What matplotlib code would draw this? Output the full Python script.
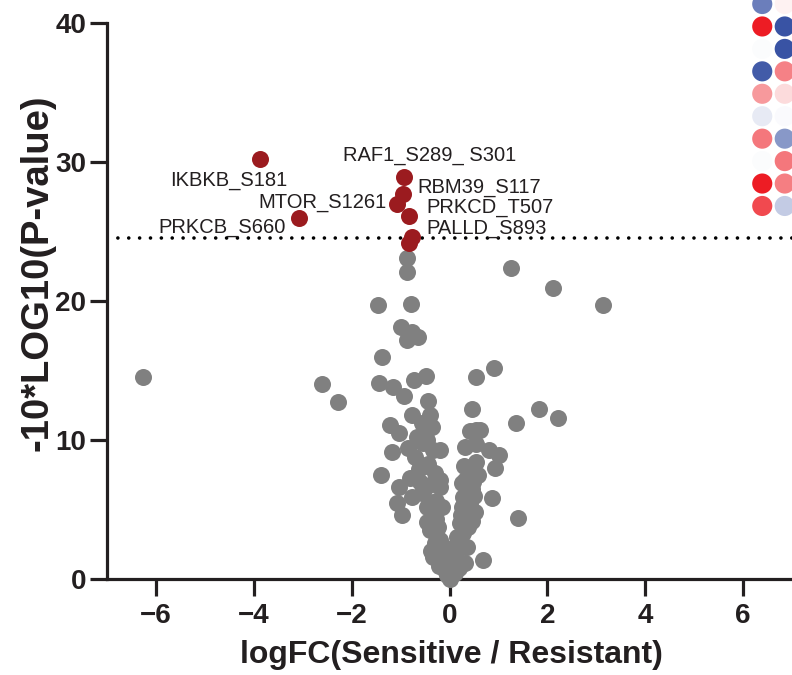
import matplotlib
matplotlib.use('Agg')
import matplotlib.pyplot as plt
from matplotlib.colors import LinearSegmentedColormap
from matplotlib import font_manager

# fonts
names = set(f.name for f in font_manager.fontManager.ttflist)
narrow = 'Liberation Sans Narrow' if 'Liberation Sans Narrow' in names else 'Liberation Sans'
plt.rcParams['font.family'] = ['Liberation Sans', 'DejaVu Sans']

# grey (non-significant) phosphosites: logFC, -10*log10(p)
grey_fc = [-6.26, -2.60, -2.28, 1.25, 2.12, 3.13, 1.83, 2.21, 1.36, 1.40, 0.91, 0.86, 0.69,
           -0.87, -0.86, -1.46, -0.79, -1.00, -0.77, -0.64, -0.86, -1.38,
           -0.49, -0.72, -1.45, -1.15, -0.93, -0.43, -0.77, -0.40, -1.21, -1.04, -0.57, -0.36,
           -0.67, -0.50, -1.18, -0.84, -0.33, -0.70, -0.43, -0.55, -0.45,
           -1.40, -1.04, -0.81, -0.47, -0.30, -1.08, -0.98, -0.77, -0.57, -0.47, -0.33, -0.40,
           -0.30, -0.33, -0.19, -0.09, 0.00, -0.19, -0.23, -0.13, -0.19, -0.16, -0.19, -0.35,
           -0.60, -0.28, -0.45, -0.25, -0.15, -0.05, -0.38, -0.22, -0.10,
           -0.62, -0.52, -0.36, -0.28, -0.20, -0.12, -0.06,
           0.54, 0.47, 0.55, 0.62, 0.42, 0.32, 0.55, 0.81, 1.01, 0.54, 0.94, 0.32, 0.59, 0.28,
           0.52, 0.21, 0.15, 0.38, 0.35, 0.32, 0.08, -0.06, 0.45, 0.35, 0.25, 0.42, 0.18, 0.28,
           0.10, 0.20, 0.12, 0.45, 0.30, 0.40, 0.50,
           0.05, 0.14, 0.24, 0.36, 0.48, 0.26, 0.06]
grey_p = [14.5, 14.0, 12.7, 22.35, 20.9, 19.7, 12.2, 11.6, 11.2, 4.4, 15.2, 5.85, 1.4,
          23.1, 22.1, 19.7, 19.8, 18.15, 17.8, 17.4, 17.2, 15.95,
          14.6, 14.3, 14.1, 13.8, 13.2, 12.8, 11.8, 11.8, 11.1, 10.5, 11.2, 10.95,
          10.2, 10.6, 9.16, 9.4, 9.3, 8.8, 8.3, 9.8, 10.0,
          7.5, 6.64, 7.25, 8.1, 7.6, 5.45, 4.6, 5.9, 6.17, 5.2, 4.5, 3.5,
          2.57, 1.6, 1.37, 0.65, 0.0, 6.64, 3.76, 2.3, 7.1, 5.2, 9.3, 6.8,
          7.0, 5.6, 4.1, 3.0, 1.0, 0.3, 2.0, 0.9, 1.7,
          7.9, 6.4, 4.9, 4.3, 2.8, 2.0, 1.3,
          14.55, 12.2, 10.7, 10.7, 10.67, 9.47, 9.7, 9.3, 8.9, 8.44, 8.0, 7.1, 7.5, 5.9,
          4.85, 4.0, 3.04, 3.76, 2.32, 1.13, 1.85, 0.65, 6.5, 6.6, 5.2, 5.5, 2.6, 3.3,
          1.2, 0.8, 0.4, 4.2, 8.1, 7.8, 6.0,
          2.2, 1.6, 4.6, 5.0, 7.0, 6.9, 0.9]

# significant sites
sig_names = ['IKBKB_S181', 'RAF1_S289_ S301', 'RBM39_S117', 'MTOR_S1261',
             'PRKCB_S660', 'PRKCD_T507', 'PALLD_S893', '']
sig_fc = [-3.87, -0.94, -0.95, -1.08, -3.07, -0.82, -0.77, -0.82]
sig_p = [30.2, 28.9, 27.7, 27.0, 26.0, 26.1, 24.6, 24.2]

# where each label text starts (left edge, centre) in data units
label_pos = {'IKBKB_S181': (-5.70, 28.65), 'RAF1_S289_ S301': (-2.18, 30.5),
             'RBM39_S117': (-0.66, 28.2), 'MTOR_S1261': (-3.91, 27.1),
             'PRKCB_S660': (-5.94, 25.3), 'PRKCD_T507': (-0.48, 26.7),
             'PALLD_S893': (-0.47, 25.2)}

threshold = 24.5

# piece of the neighbouring heatmap panel (cut off at the right edge)
heat_col0 = [-0.75, 1.0, -0.02, -0.95, 0.45, -0.12, 0.60, -0.02, 1.0, 0.80]
heat_col1 = [0.06, -1.0, -1.0, 0.55, 0.16, -0.03, -0.60, 0.60, 0.57, -0.30]

fig = plt.figure(figsize=(7.92, 6.75), dpi=100)
ax = fig.add_axes([107 / 792, 1 - 579 / 675, 1 - 107 / 792, 556 / 675])

ax.scatter(grey_fc, grey_p, s=150, color='#808080', lw=0, zorder=3, clip_on=False)
ax.axhline(threshold, color='black', lw=2.6, ls=(0, (0.01, 3.0)), dash_capstyle='round',
           zorder=2)
ax.scatter(sig_fc, sig_p, s=150, color='#9b1b1f', lw=0, zorder=4, clip_on=False)
for name in sig_names:
    if name:
        x, y = label_pos[name]
        ax.text(x, y, name, fontsize=14.5, va='center', ha='left', color='#231f20', zorder=5)

ax.set_xlim(-7, 7)
ax.set_ylim(0, 40)
ax.set_xticks([-6, -4, -2, 0, 2, 4, 6])
ax.set_yticks([0, 10, 20, 30, 40])
for s in ['top', 'right']:
    ax.spines[s].set_visible(False)
for s in ['left', 'bottom']:
    ax.spines[s].set_linewidth(2.3)
    ax.spines[s].set_color('#231f20')
ax.tick_params(length=12, width=2.3, color='#231f20', labelsize=20)
ax.tick_params(axis='y', pad=3)
ax.tick_params(axis='x', pad=5)
for lab in ax.get_xticklabels() + ax.get_yticklabels():
    lab.set_fontweight('bold')
    lab.set_color('#231f20')

ax.set_xlabel('logFC(Sensitive / Resistant)', fontsize=23, fontweight='bold',
              family=[narrow, 'DejaVu Sans'], color='#231f20', va='center')
ax.set_ylabel('-10*LOG10(P-value)', fontsize=27.5, fontweight='bold',
              family=[narrow, 'DejaVu Sans'], color='#231f20', va='center')
ax.xaxis.set_label_coords(0.503, -0.137)
ax.yaxis.set_label_coords(-0.102, 0.55)

# heatmap fragment
cmap = LinearSegmentedColormap.from_list('bwr2', ['#3953a4', '#ffffff', '#ed1c24'])
hx = fig.add_axes([751 / 792, 1 - 217.2 / 675, 45 / 792, 224.4 / 675])
rows = list(range(len(heat_col0)))
hx.scatter([0] * len(rows), rows, c=heat_col0, cmap=cmap, vmin=-1, vmax=1, s=210, lw=0,
           clip_on=False)
hx.scatter([1] * len(rows), rows, c=heat_col1, cmap=cmap, vmin=-1, vmax=1, s=210, lw=0,
           clip_on=False)
hx.set_xlim(-0.5, 1.5)
hx.set_ylim(9.5, -0.5)
hx.axis('off')

fig.savefig('out.png', dpi=100)
